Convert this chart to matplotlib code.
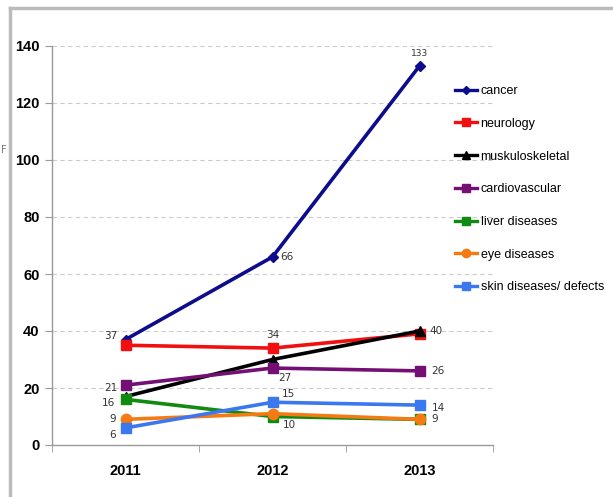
import matplotlib
matplotlib.use("Agg")
import matplotlib.pyplot as plt
from matplotlib.lines import Line2D

years = ["2011", "2012", "2013"]
cancer = [37, 66, 133]
neurology = [35, 34, 39]
musculo = [17, 30, 40]
cardio = [21, 27, 26]
liver = [16, 10, 9]
eye = [9, 11, 9]
skin = [6, 15, 14]

series = [
    ("cancer", cancer, "#0c0c8c", "D"),
    ("neurology", neurology, "#f01010", "s"),
    ("muskuloskeletal", musculo, "#000000", "^"),
    ("cardiovascular", cardio, "#741074", "s"),
    ("liver diseases", liver, "#118a11", "s"),
    ("eye diseases", eye, "#f57a12", "o"),
    ("skin diseases/ defects", skin, "#3b78f0", "s"),
]

# (series index, point index, text, dx px, dy px, ha, va)
labels = [
    (0, 0, "37", -8, 4, "right", "center"),
    (0, 1, "66", 8, 0, "left", "center"),
    (0, 2, "133", 0, 8, "center", "bottom"),
    (1, 1, "34", 0, 8, "center", "bottom"),
    (2, 2, "40", 10, 0, "left", "center"),
    (3, 0, "21", -8, -3, "right", "center"),
    (4, 0, "16", -10, -4, "right", "center"),
    (5, 0, "9", -10, 0, "right", "center"),
    (6, 0, "6", -10, -7, "right", "center"),
    (3, 1, "27", 6, -10, "left", "center"),
    (6, 1, "15", 9, 8, "left", "center"),
    (4, 1, "10", 10, -9, "left", "center"),
    (3, 2, "26", 12, 0, "left", "center"),
    (6, 2, "14", 12, -3, "left", "center"),
    (5, 2, "9", 12, 0, "left", "center"),
]

fig = plt.figure(figsize=(6.13, 4.97), dpi=100)
ax = fig.add_axes([52/613, 1-445/497, (493-52)/613, (445-46)/497])

x = [0, 1, 2]
handles = []
for name, vals, col, mk in series:
    ms = 5.5 if mk == "D" else 7.5
    ax.plot(x, vals, color=col, lw=2.6, marker=mk, ms=ms, zorder=3)
    handles.append(Line2D([], [], color=col, lw=2.4, marker=mk, ms=ms-1.5))

for si, pi, txt, dx, dy, ha, va in labels:
    fs = 6.5 if txt == "133" else 7.5
    ax.annotate(txt, (x[pi], series[si][1][pi]), xytext=(dx*0.72, dy*0.72),
                textcoords="offset points", ha=ha, va=va, fontsize=fs,
                family="DejaVu Sans", color="#333333")

ax.set_xlim(-0.5, 2.5)
ax.set_ylim(0, 140)
ax.set_yticks(range(0, 141, 20))
ax.set_yticklabels([str(v) for v in range(0, 141, 20)], fontsize=10.5,
                   fontweight="bold", family="Liberation Sans")
ax.set_xticks(x)
ax.set_xticklabels(years, fontsize=10.5, fontweight="bold", family="Liberation Sans")
ax.tick_params(axis="x", length=0, pad=14)
ax.set_xticks([-0.5, 0.5, 1.5, 2.5], minor=True)
ax.tick_params(axis="x", which="minor", length=5, color="#999999", direction="out")
ax.tick_params(axis="y", length=5, color="#999999", pad=4)
for y in range(20, 141, 20):
    ax.axhline(y, color="#cccccc", lw=0.8, ls=(0, (4, 3)), zorder=0)
for s in ["top", "right"]:
    ax.spines[s].set_visible(False)
for s in ["left", "bottom"]:
    ax.spines[s].set_color("#999999")
    ax.spines[s].set_linewidth(1.0)

fig.legend(handles, [s[0] for s in series], loc="upper left",
           bbox_to_anchor=(455/613, 1-85/497), frameon=False,
           handlelength=1.8, handletextpad=0.25,
           labelspacing=1.66, borderaxespad=0, borderpad=0,
           prop={"family": "Liberation Sans", "size": 9})

# page border lines
fig.add_artist(Line2D([10/613, 10/613], [0, 1-8/497], color="#bbbbbb", lw=2.5,
                      transform=fig.transFigure))
fig.add_artist(Line2D([10/613, 1], [1-8/497, 1-8/497], color="#bbbbbb", lw=2.5,
                      transform=fig.transFigure))
fig.text(1/613, 1-150/497, "F", fontsize=7, color="#777777", va="center")

fig.savefig("out.png", dpi=100)
